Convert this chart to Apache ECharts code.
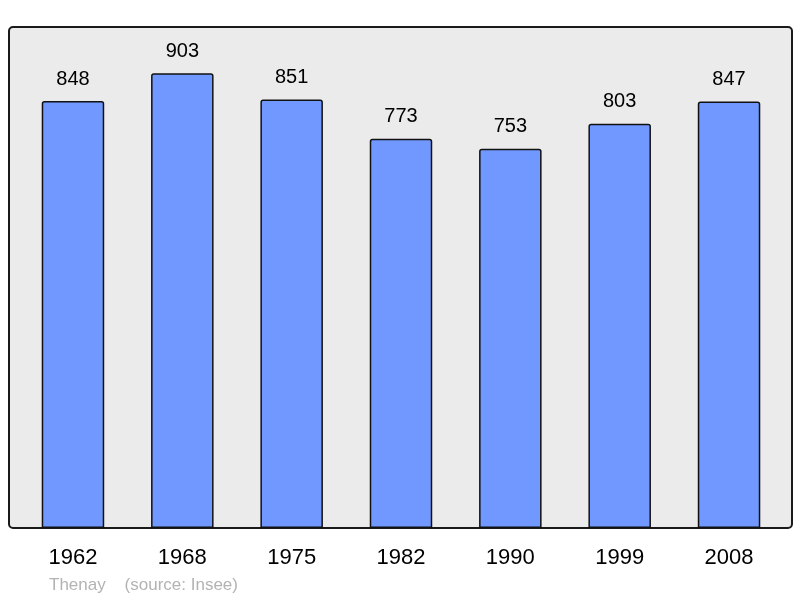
<!DOCTYPE html>
<html>
<head>
<meta charset="utf-8">
<script src="https://cdn.jsdelivr.net/npm/echarts@6/dist/echarts.min.js"></script>
<style>
  html, body { margin: 0; padding: 0; background: #fff; }
</style>
</head>
<body>
<div id="chart" style="width:800px;height:598px;"></div>
<script>
// données
var years = ['1962', '1968', '1975', '1982', '1990', '1999', '2008'];
var population = [848, 903, 851, 773, 753, 803, 847];
var footerText = 'Thenay    (source: Insee)';

var chart = echarts.init(document.getElementById('chart'), null, { renderer: 'canvas' });

var option = {
  backgroundColor: '#ffffff',
  animation: false,
  textStyle: { fontFamily: 'Liberation Sans, Arial, sans-serif' },
  // cadre gris à coins arrondis
  graphic: [
    {
      type: 'rect',
      z: -10,
      shape: { x: 9, y: 27, width: 783, height: 501, r: 4 },
      style: { fill: '#ebebeb', stroke: '#1a1a1a', lineWidth: 2 }
    },
    {
      type: 'text',
      left: 49,
      top: 577,
      style: { text: footerText, fill: '#b3b3b3', fontSize: 17, fontFamily: 'Liberation Sans, Arial, sans-serif' }
    }
  ],
  grid: { left: 18.3, right: 16.3, top: 24.5, bottom: 70, containLabel: false },
  xAxis: {
    type: 'category',
    data: years,
    axisLine: { show: false },
    axisTick: { show: false },
    axisLabel: { color: '#000', fontSize: 22, margin: 19 }
  },
  yAxis: {
    type: 'value',
    min: 0,
    max: 1000,
    show: false,
    splitLine: { show: false }
  },
  series: [
    {
      type: 'bar',
      data: population,
      barWidth: 62.5,
      itemStyle: {
        color: '#7098ff',
        borderColor: '#111',
        borderWidth: 1.5,
        borderRadius: [2, 2, 0, 0]
      },
      label: {
        show: true,
        position: 'top',
        distance: 12,
        color: '#000',
        fontSize: 20
      }
    }
  ]
};

chart.setOption(option);
</script>
</body>
</html>
